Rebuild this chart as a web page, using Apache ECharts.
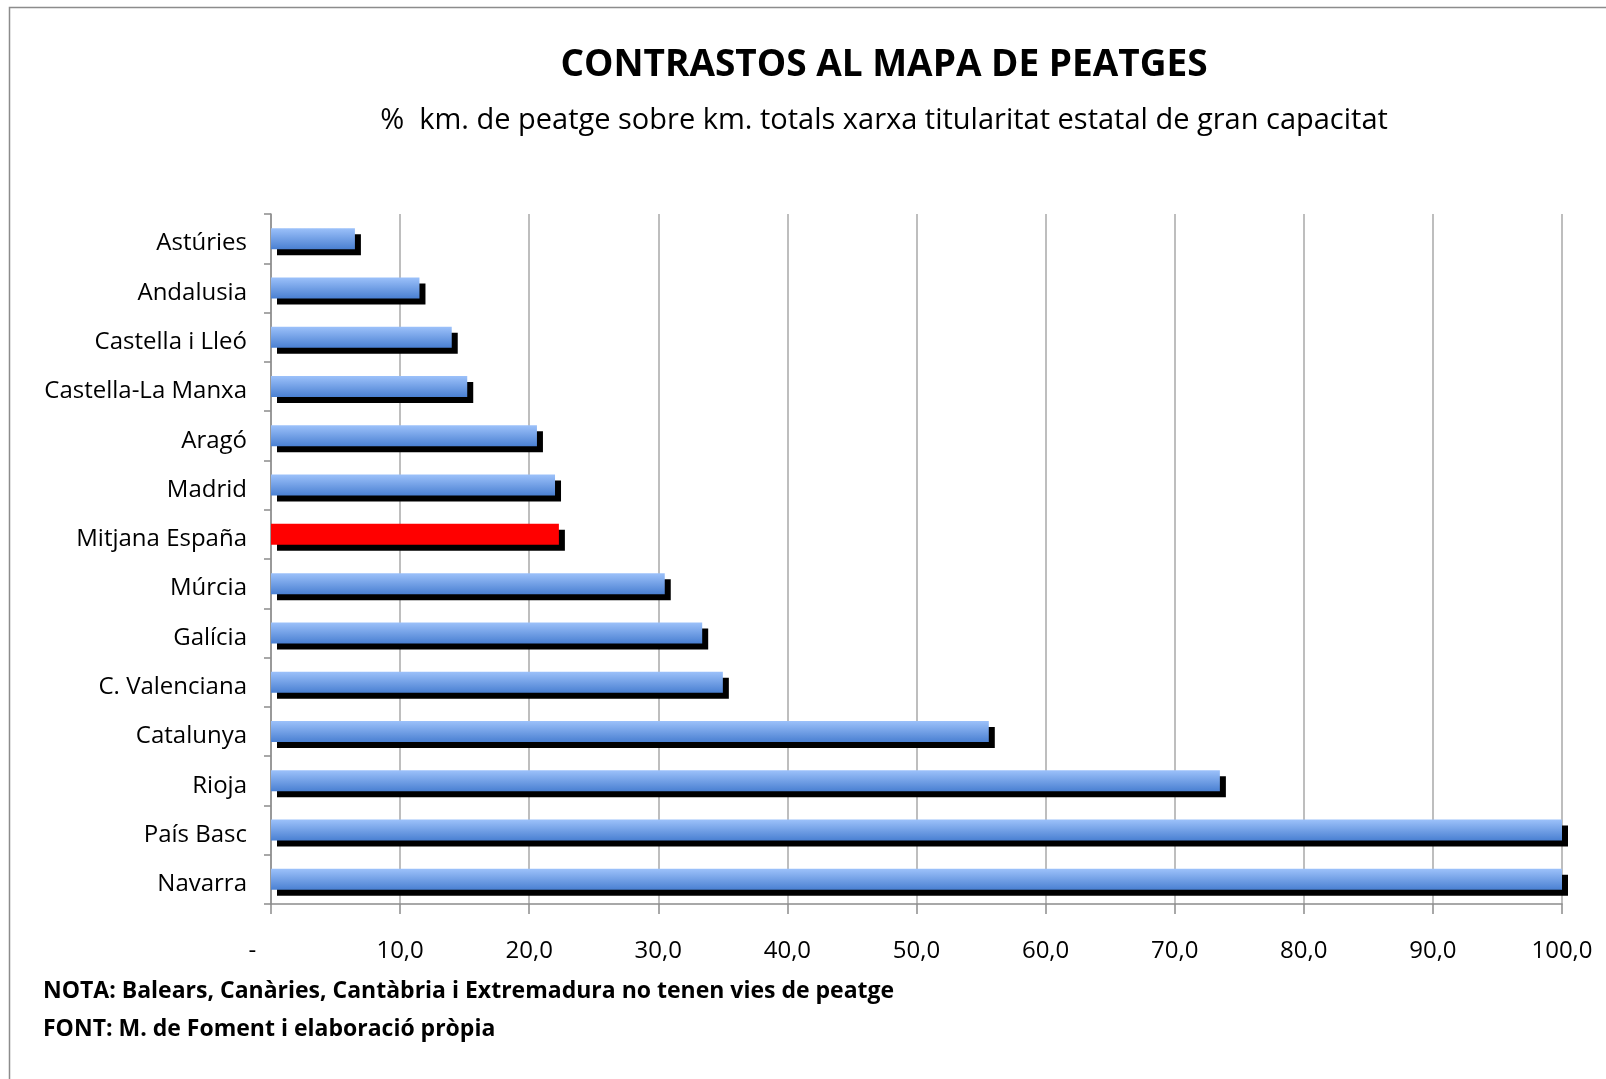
<!DOCTYPE html>
<html>
<head>
<meta charset="utf-8">
<script src="https://cdn.jsdelivr.net/npm/echarts@6/dist/echarts.min.js"></script>
<style>
  html, body { margin: 0; padding: 0; background: #fff; }
  #chart { width: 1606px; height: 1079px; }
</style>
</head>
<body>
<div id="chart"></div>
<script>
// regions, top to bottom as in the picture
var regions = ['Astúries', 'Andalusia', 'Castella i Lleó', 'Castella-La Manxa', 'Aragó', 'Madrid',
    'Mitjana España', 'Múrcia', 'Galícia', 'C. Valenciana', 'Catalunya', 'Rioja', 'País Basc', 'Navarra'];
// % km de peatge
var pctPeatge = [6.5, 11.5, 14.0, 15.2, 20.6, 22.0, 22.3, 30.5, 33.4, 35.0, 55.6, 73.5, 100, 100];
var mitjana = 'Mitjana España';

var titleText = 'CONTRASTOS AL MAPA DE PEATGES';
var subText = '%  km. de peatge sobre km. totals xarxa titularitat estatal de gran capacitat';
var notaText = 'NOTA: Balears, Canàries, Cantàbria i Extremadura no tenen vies de peatge';
var fontText = 'FONT: M. de Foment i elaboració pròpia';

var FF = 'Open Sans';
var chart = echarts.init(document.getElementById('chart'));

var blueFill = new echarts.graphic.LinearGradient(0, 0, 0, 1, [
    {offset: 0, color: '#9cc1fa'},
    {offset: 1, color: '#4a80d2'}
]);

var barData = regions.map(function (r, i) {
    var st = {
        color: r == mitjana ? '#ff0000' : blueFill,
        shadowColor: '#000',
        shadowOffsetX: 6,
        shadowOffsetY: 6,
        shadowBlur: 0
    };
    return {value: pctPeatge[i], itemStyle: st};
});

var option = {
    backgroundColor: '#fff',
    animation: false,
    textStyle: {fontFamily: FF},
    title: [{
        text: titleText,
        left: 879, top: 42, textAlign: 'center',
        textStyle: {fontFamily: FF, fontWeight: 'bold', fontSize: 37, color: '#000'}
    }, {
        text: subText,
        left: 879, top: 101, textAlign: 'center',
        textStyle: {fontFamily: FF, fontWeight: 'normal', fontSize: 29, color: '#000'}
    }],
    grid: {left: 271, right: 44, top: 214, bottom: 175},
    xAxis: {
        type: 'value',
        min: 0, max: 100, interval: 10,
        axisLine: {show: true, lineStyle: {color: '#8c8c8c', width: 1.5}},
        axisTick: {show: true, length: 10, lineStyle: {color: '#8c8c8c', width: 1.5}},
        splitLine: {show: true, lineStyle: {color: '#a8a8a8', width: 1.5}},
        axisLabel: {
            margin: 35,
            fontSize: 24, color: '#000', fontFamily: FF,
            formatter: function (v) {
                if (v == 0) return '-      ';
                return v.toFixed(1).replace('.', ',');
            }
        }
    },
    yAxis: {
        type: 'category',
        inverse: true,
        data: regions,
        axisLine: {show: true, lineStyle: {color: '#8c8c8c', width: 1.5}},
        axisTick: {show: true, length: 7, lineStyle: {color: '#8c8c8c', width: 1.5}},
        axisLabel: {margin: 24, fontSize: 24, color: '#000', fontFamily: FF,
            verticalAlign: 'top', lineHeight: 10}
    },
    series: [{
        type: 'bar',
        data: barData,
        barWidth: 21
    }],
    graphic: [{
        type: 'rect',
        shape: {x: 9.5, y: 7.5, width: 1620, height: 1100},
        style: {fill: 'none', stroke: '#8c8c8c', lineWidth: 1.5},
        silent: true
    }, {
        type: 'text', left: 43, top: 980,
        style: {text: notaText, fontFamily: FF, fontWeight: 'bold', fontSize: 23, fill: '#000'}
    }, {
        type: 'text', left: 43, top: 1018,
        style: {text: fontText, fontFamily: FF, fontWeight: 'bold', fontSize: 23, fill: '#000'}
    }]
};

chart.setOption(option);
</script>
</body>
</html>
